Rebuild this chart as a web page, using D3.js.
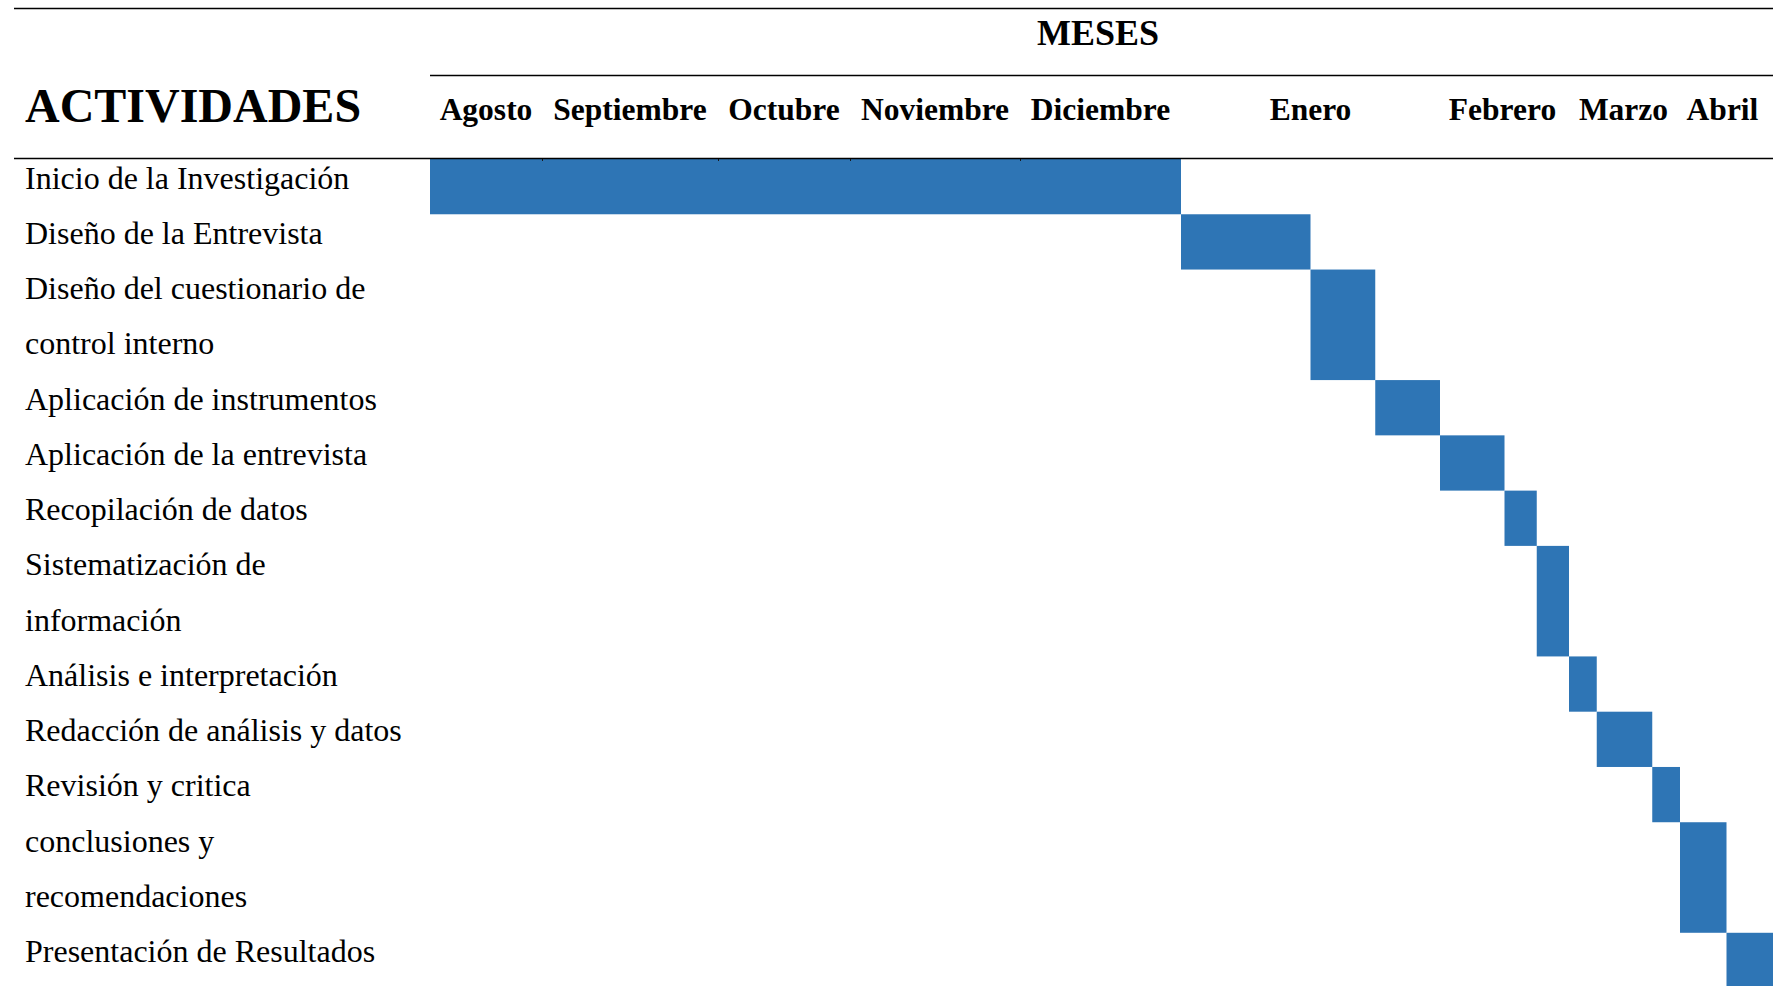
<!DOCTYPE html>
<html>
<head>
<meta charset="utf-8">
<script src="https://cdn.jsdelivr.net/npm/d3@7"></script>
<style>
  html, body { margin: 0; padding: 0; background: #ffffff; }
  svg { display: block; }
</style>
</head>
<body>
<svg id="chart" width="1773" height="986"></svg>
<script>
// ---- data ----
const months = ["Agosto", "Septiembre", "Octubre", "Noviembre", "Diciembre", "Enero", "Febrero", "Marzo", "Abril"];
const activityLabels = [
  ["Inicio de la Investigación"],
  ["Diseño de la Entrevista"],
  ["Diseño del cuestionario de", "control interno"],
  ["Aplicación de instrumentos"],
  ["Aplicación de la entrevista"],
  ["Recopilación de datos"],
  ["Sistematización de", "información"],
  ["Análisis e interpretación"],
  ["Redacción de análisis y datos"],
  ["Revisión y critica"],
  ["conclusiones y", "recomendaciones"],
  ["Presentación de Resultados"]
];
// start / end in months since start of Agosto
const startMonth = [0, 5, 5.5, 5.75, 6, 6.5, 6.75, 7, 7.25, 7.75, 8, 8.5];
const endMonth   = [5, 5.5, 5.75, 6, 6.5, 6.75, 7, 7.25, 7.75, 8, 8.5, 9];
const headerTitle = "ACTIVIDADES";
const monthsTitle = "MESES";

// ---- layout ----
const W = 1773, H = 986;
const columnEdges = [430, 542, 718, 850, 1020, 1181, 1440, 1569, 1680, 1773];
const monthLabelNudge = [0, 0, 0, 0, 0, 0, -2, -1, -4];
const bodyTop = 159, lineH = 55.27;
const barColor = "#2e75b5";
const serif = "'Liberation Serif', 'Times New Roman', Times, serif";

const svg = d3.select("#chart");

const x = d3.scaleLinear()
  .domain(d3.range(months.length + 1))
  .range(columnEdges);

// rows with cumulative line offsets
let acc = 0;
const rows = activityLabels.map((lines, i) => {
  const r = { lines, start: startMonth[i], end: endMonth[i], line0: acc };
  acc += lines.length;
  return r;
});
const totalLines = acc;
const y = d3.scaleLinear().domain([0, totalLines]).range([bodyTop, bodyTop + totalLines * lineH]);

// bars
svg.append("g").selectAll("rect")
  .data(rows)
  .join("rect")
  .attr("x", d => x(d.start))
  .attr("y", d => y(d.line0))
  .attr("width", d => x(d.end) - x(d.start))
  .attr("height", d => y(d.line0 + d.lines.length) - y(d.line0))
  .attr("fill", barColor);

// tiny column ticks inside first bar
const innerTicks = d3.range(1, months.length).filter(k => k > rows[0].start && k < rows[0].end);
const tickAxis = d3.axisBottom(x).tickValues(innerTicks).tickSize(2).tickFormat("");
const tg = svg.append("g").attr("transform", `translate(0,${bodyTop})`).call(tickAxis);
tg.select(".domain").remove();
tg.selectAll("line").attr("stroke", "#1a1a1a").attr("stroke-width", 1);

// rule lines
svg.append("line").attr("x1", 14).attr("x2", W).attr("y1", 8.5).attr("y2", 8.5)
  .attr("stroke", "#000").attr("stroke-width", 1.6);
svg.append("line").attr("x1", x(0)).attr("x2", W).attr("y1", 75.5).attr("y2", 75.5)
  .attr("stroke", "#000").attr("stroke-width", 1.6);
svg.append("line").attr("x1", 14).attr("x2", W).attr("y1", 158.5).attr("y2", 158.5)
  .attr("stroke", "#000").attr("stroke-width", 1.4);

// titles
svg.append("text").attr("x", 1098).attr("y", 45)
  .attr("text-anchor", "middle")
  .attr("font-family", serif).attr("font-weight", "bold").attr("font-size", 36)
  .attr("fill", "#000").text(monthsTitle);

svg.append("text").attr("x", 25).attr("y", 122)
  .attr("font-family", serif).attr("font-weight", "bold").attr("font-size", 48)
  .attr("fill", "#000").text(headerTitle);

// month labels
svg.append("g").selectAll("text")
  .data(months)
  .join("text")
  .attr("x", (d, i) => (x(i) + x(i + 1)) / 2 + monthLabelNudge[i])
  .attr("y", 120)
  .attr("text-anchor", "middle")
  .attr("font-family", serif).attr("font-weight", "bold").attr("font-size", 31.5)
  .attr("fill", "#000")
  .text(d => d);

// activity labels
const lg = svg.append("g");
rows.forEach(r => {
  r.lines.forEach((t, j) => {
    lg.append("text")
      .attr("x", 25)
      .attr("y", y(r.line0 + j) + 29.5)
      .attr("font-family", serif).attr("font-size", 32)
      .attr("fill", "#000")
      .text(t);
  });
});
</script>
</body>
</html>
